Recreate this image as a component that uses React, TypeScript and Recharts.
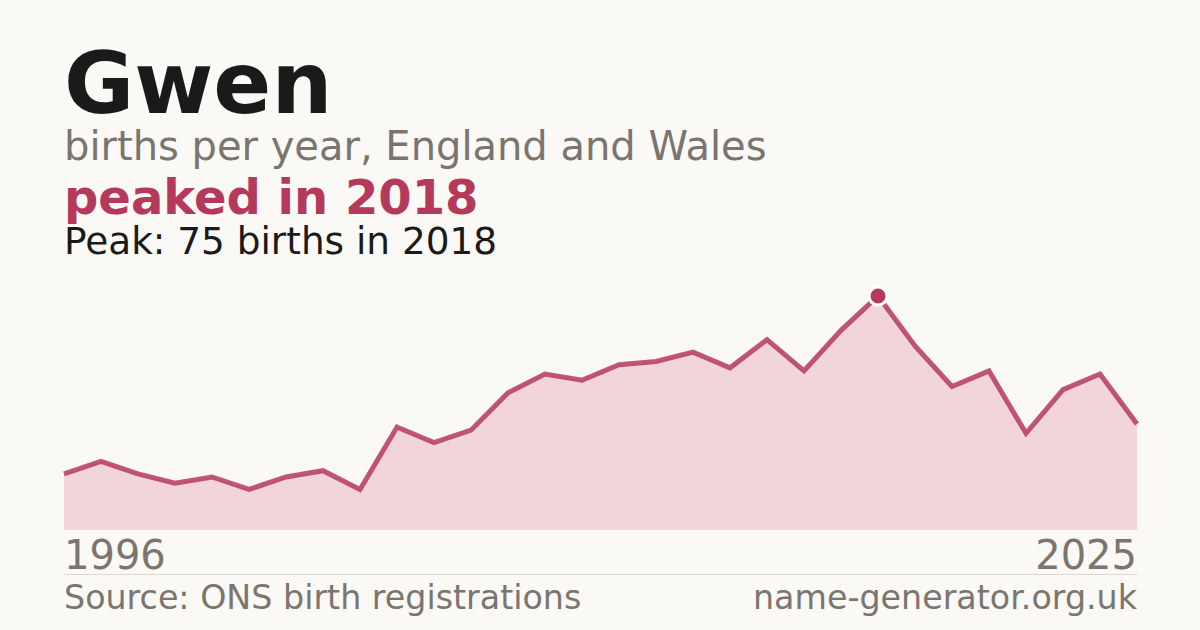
import React from "react";
import { AreaChart, Area, XAxis, YAxis } from "recharts";

const years: string[] = [
  "1996", "1997", "1998", "1999", "2000", "2001", "2002", "2003", "2004", "2005",
  "2006", "2007", "2008", "2009", "2010", "2011", "2012", "2013", "2014", "2015",
  "2016", "2017", "2018", "2019", "2020", "2021", "2022", "2023", "2024", "2025",
];
const births: number[] = [
  18, 22, 18, 15, 17, 13, 17, 19, 13, 33,
  28, 32, 44, 50, 48, 53, 54, 57, 52, 61,
  51, 64, 75, 59, 46, 51, 31, 45, 50, 34,
];
const peakYear = "2018";
const titleText = "Gwen";
const subtitleText = "births per year, England and Wales";
const headlineText = "peaked in 2018";
const peakText = "Peak: 75 births in 2018";
const sourceText = "Source: ONS birth registrations";
const siteText = "name-generator.org.uk";

const data = years.map((y, i) => ({ year: y, births: births[i] }));

const BG = "#faf9f5";
const RED = "#b5395a";
const GREY = "#7a756e";
const FONT = "'DejaVu Sans', sans-serif";

const PeakDot = (props: any) => {
  const { cx, cy, payload, index } = props;
  if (!payload || payload.year !== peakYear) return <g key={`d${index}`} />;
  return (
    <circle key={`d${index}`} cx={cx} cy={cy} r={9} fill={RED} stroke="#ffffff" strokeWidth={3} />
  );
};

export default function App() {
  return (
    <div
      style={{
        position: "fixed",
        left: 0,
        top: 0,
        width: 1200,
        height: 630,
        background: BG,
        overflow: "hidden",
      }}
    >
      <div style={{ position: "absolute", left: 0, top: 0 }}>
        <AreaChart
          width={1200}
          height={630}
          data={data}
          margin={{ top: 296, right: 63, bottom: 100, left: 64 }}
        >
          <XAxis dataKey="year" hide padding={{ left: 0, right: 0 }} />
          <YAxis hide domain={[0, 75]} />
          <Area
            type="linear"
            dataKey="births"
            stroke={RED}
            strokeWidth={5}
            strokeOpacity={0.85}
            fill="#f1d5da"
            fillOpacity={1}
            dot={PeakDot}
            activeDot={false}
            isAnimationActive={false}
          />
        </AreaChart>
      </div>
      <svg
        width={1200}
        height={630}
        style={{ position: "absolute", left: 0, top: 0, pointerEvents: "none" }}
      >
        <text x={64} y={113} fontFamily={FONT} fontWeight={700} fontSize={85.6} fill="#1a1a1a">
          {titleText}
        </text>
        <text x={64} y={160} fontFamily={FONT} fontSize={40} fill={GREY}>
          {subtitleText}
        </text>
        <text x={64} y={214} fontFamily={FONT} fontWeight={700} fontSize={48} fill={RED}>
          {headlineText}
        </text>
        <text x={64} y={254} fontFamily={FONT} fontSize={37.4} fill="#1a1a1a">
          {peakText}
        </text>
        <text x={64} y={569} fontFamily={FONT} fontSize={40} fill={GREY}>
          {years[0]}
        </text>
        <text x={1137} y={569} textAnchor="end" fontFamily={FONT} fontSize={40} fill={GREY}>
          {years[years.length - 1]}
        </text>
        <line x1={64} x2={1137} y1={574.5} y2={574.5} stroke="#dcd9d3" strokeWidth={1} />
        <text x={64} y={609} fontFamily={FONT} fontSize={33.3} fill={GREY}>
          {sourceText}
        </text>
        <text x={1137} y={609} textAnchor="end" fontFamily={FONT} fontSize={33.3} fill={GREY}>
          {siteText}
        </text>
      </svg>
    </div>
  );
}
